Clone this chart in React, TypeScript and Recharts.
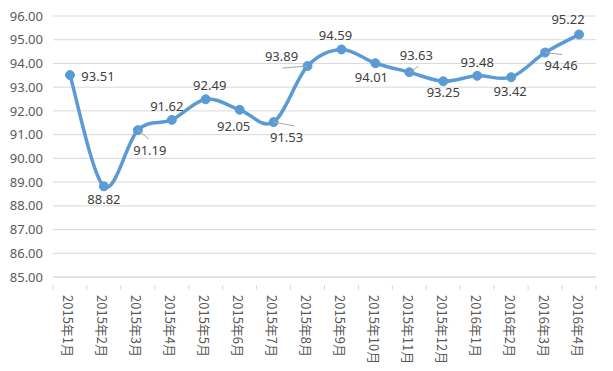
import { LineChart, Line, XAxis, YAxis, CartesianGrid, LabelList } from 'recharts';

const months = [
  '2015年1月', '2015年2月', '2015年3月', '2015年4月', '2015年5月', '2015年6月',
  '2015年7月', '2015年8月', '2015年9月', '2015年10月', '2015年11月', '2015年12月',
  '2016年1月', '2016年2月', '2016年3月', '2016年4月',
];
const scores = [
  93.51, 88.82, 91.19, 91.62, 92.49, 92.05, 91.53, 93.89,
  94.59, 94.01, 93.63, 93.25, 93.48, 93.42, 94.46, 95.22,
];
const yTicks = [85, 86, 87, 88, 89, 90, 91, 92, 93, 94, 95, 96];

const data = months.map((month, i) => ({ month, score: scores[i] }));

// label offset from the point (text centre), and leader line end if any
const labelOffsets: [number, number][] = [
  [28, 1], [0, 13], [12, 20], [-5, -14], [4, -14], [-6, 16], [13, 15], [-26, -10],
  [-6, -14], [-4, 14], [7, -17], [0, 11], [0, -14], [-1, 14], [16, 12], [-11, -16],
];
const leaders: Record<number, [number, number]> = {
  2: [11, 9],
  6: [21, 4],
  7: [-25, 2],
  10: [9, -6],
  14: [17, 2],
};

const BLUE = '#5B9BD5';
const FONT = '"Noto Sans", sans-serif';

// Excel style smoothing (Catmull-Rom through every point)
function excelSmooth(context: any) {
  let pts: [number, number][] = [];
  return {
    areaStart() {},
    areaEnd() {},
    lineStart() {
      pts = [];
    },
    point(x: number, y: number) {
      pts.push([+x, +y]);
    },
    lineEnd() {
      if (!pts.length) return;
      context.moveTo(pts[0][0], pts[0][1]);
      for (let i = 0; i < pts.length - 1; i++) {
        const p0 = pts[Math.max(i - 1, 0)];
        const p1 = pts[i];
        const p2 = pts[i + 1];
        const p3 = pts[Math.min(i + 2, pts.length - 1)];
        context.bezierCurveTo(
          p1[0] + (p2[0] - p0[0]) / 6,
          p1[1] + (p2[1] - p0[1]) / 6,
          p2[0] - (p3[0] - p1[0]) / 6,
          p2[1] - (p3[1] - p1[1]) / 6,
          p2[0],
          p2[1]
        );
      }
    },
  };
}

const MonthTick = (props: any) => {
  const { x, y, payload, index, visibleTicksCount } = props;
  const band = 543 / months.length;
  return (
    <g>
      <line x1={x - band / 2} y1={y} x2={x - band / 2} y2={y + 5} stroke="#D9D9D9" />
      {index === visibleTicksCount - 1 && (
        <line x1={x + band / 2} y1={y} x2={x + band / 2} y2={y + 5} stroke="#D9D9D9" />
      )}
      <text
        transform={`translate(${x - 1},${y + 10}) rotate(90)`}
        textAnchor="start"
        dominantBaseline="central"
        fontSize={13}
        fill="#595959"
        fontFamily='"Noto Sans CJK SC", sans-serif'
      >
        {payload.value}
      </text>
    </g>
  );
};

const ScoreLabel = (props: any) => {
  const { x, y, value, index } = props;
  const [dx, dy] = labelOffsets[index];
  const lead = leaders[index];
  return (
    <g>
      {lead && (
        <line x1={x} y1={y} x2={x + lead[0]} y2={y + lead[1]} stroke="#A6A6A6" strokeWidth={1} />
      )}
      <text
        x={x + dx}
        y={y + dy}
        textAnchor="middle"
        dominantBaseline="central"
        fontSize={13}
        fill="#404040"
        fontFamily={FONT}
      >
        {Number(value).toFixed(2)}
      </text>
    </g>
  );
};

export default function App() {
  return (
    <div style={{ position: 'absolute', left: 0, top: 0, background: '#fff' }}>
      <LineChart
        width={613}
        height={371}
        data={data}
        margin={{ top: 16, right: 17, left: 0, bottom: 0 }}
      >
        <CartesianGrid vertical={false} stroke="#D9D9D9" />
        <XAxis
          dataKey="month"
          scale="band"
          height={94}
          interval={0}
          tickLine={false}
          stroke="#D9D9D9"
          tick={<MonthTick />}
        />
        <YAxis
          width={53}
          domain={[85, 96]}
          ticks={yTicks}
          axisLine={false}
          tickLine={false}
          tickSize={0}
          tickMargin={10}
          tickFormatter={(v: number) => v.toFixed(2)}
          tick={{ fontSize: 13, fill: '#595959', fontFamily: FONT }}
        />
        <Line
          dataKey="score"
          type={excelSmooth as any}
          stroke={BLUE}
          strokeWidth={3.5}
          dot={{ r: 4.5, fill: BLUE, stroke: BLUE, strokeWidth: 1 }}
          activeDot={false}
          isAnimationActive={false}
        >
          <LabelList dataKey="score" content={<ScoreLabel />} />
        </Line>
      </LineChart>
    </div>
  );
}
